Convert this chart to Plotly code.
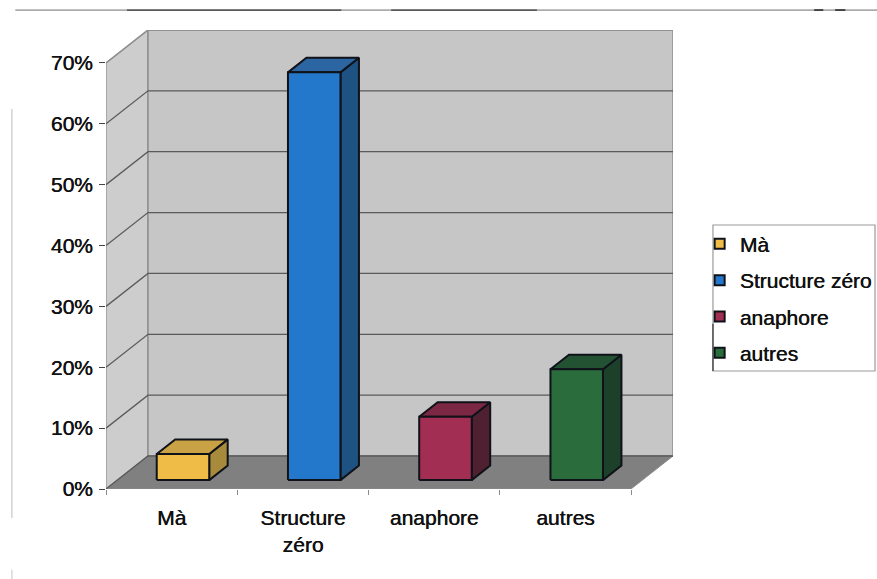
import plotly.graph_objects as go

categories = ["Mà", "Structure zéro", "anaphore", "autres"]
axis_labels = ["Mà", "Structure<br>zéro", "anaphore", "autres"]
values = [4.3, 67.0, 10.4, 18.2]
percent_ticks = [0, 10, 20, 30, 40, 50, 60, 70]

front_colors = ["#f0bc48", "#2478cc", "#a32e54", "#2a6c3c"]
top_colors = ["#c8a244", "#2c66a2", "#7c2844", "#225232"]
side_colors = ["#a88a3c", "#1e5282", "#4e2030", "#1c4029"]

# Oblique projection: one unit of depth moves a point this far on the axes.
DEPTH_X = 0.32
DEPTH_Y = 5.42
BAR_WIDTH = 0.40
BAR_D0, BAR_D1 = 0.27, 0.71
FONT = "Liberation Sans"
INK = "#10121a"
TEXT = "#111111"
HEAVY = "0.5px 0 0.4px #111111"


def proj(x, y, d):
    return x + d * DEPTH_X, y + d * DEPTH_Y


def polygon(points, fill, line="rgba(0,0,0,0)", width=0):
    pts = [proj(*p) for p in points]
    pts.append(pts[0])
    return go.Scatter(
        x=[p[0] for p in pts], y=[p[1] for p in pts], mode="lines",
        fill="toself", fillcolor=fill, line=dict(color=line, width=width),
        showlegend=False, hoverinfo="skip",
    )


def page_line(x0, x1, y0, y1, color, width):
    return dict(type="line", xref="paper", yref="paper", x0=x0, x1=x1, y0=y0, y1=y1,
                line=dict(color=color, width=width))


fig = go.Figure()
n = len(categories)
top = percent_ticks[-1]

# Chart walls and floor
fig.add_trace(polygon([(0, 0, 0), (0, top, 0), (0, top, 1), (0, 0, 1)], "#cdcdcd", "#9a9a9a", 1.5))
fig.add_trace(polygon([(0, 0, 1), (0, top, 1), (n, top, 1), (n, 0, 1)], "#c6c6c6", "#8f8f8f", 1.5))
fig.add_trace(polygon([(0, 0, 0), (0, 0, 1), (n, 0, 1), (n, 0, 0)], "#808080", "#8c8c8c", 1))

# Gridlines wrap from the side wall onto the back wall
for v in percent_ticks:
    a, b, c = proj(0, v, 0), proj(0, v, 1), proj(n, v, 1)
    color = "#8f8f8f" if v == top else "#5a5a5a"
    fig.add_trace(go.Scatter(
        x=[a[0], b[0], c[0]], y=[a[1], b[1], c[1]], mode="lines",
        line=dict(color=color, width=1.3), showlegend=False, hoverinfo="skip",
    ))

# Bars: front, top and right faces
for i, value in enumerate(values):
    x0 = i + 0.5 - BAR_WIDTH / 2
    x1 = i + 0.5 + BAR_WIDTH / 2
    d0, d1 = BAR_D0, BAR_D1
    fig.add_trace(polygon([(x1, 0, d0), (x1, value, d0), (x1, value, d1), (x1, 0, d1)], side_colors[i], INK, 2))
    fig.add_trace(polygon([(x0, value, d0), (x1, value, d0), (x1, value, d1), (x0, value, d1)], top_colors[i], INK, 2))
    fig.add_trace(polygon([(x0, 0, d0), (x1, 0, d0), (x1, value, d0), (x0, value, d0)], front_colors[i], INK, 2))

# Legend entries
for i, name in enumerate(categories):
    fig.add_trace(go.Scatter(
        x=[None], y=[None], mode="markers", name=name, legendgroup=name,
        marker=dict(symbol="square", size=10, color=front_colors[i], line=dict(color=INK, width=2)),
    ))

text_font = dict(family=FONT, size=21, color=TEXT, shadow=HEAVY)

fig.update_layout(
    width=877, height=579,
    margin=dict(l=106, r=204, t=30, b=90, autoexpand=False),
    paper_bgcolor="white", plot_bgcolor="white",
    font=dict(family=FONT, size=21, color=TEXT),
    showlegend=True,
    legend=dict(
        x=1.047, y=0.578, xref="paper", yref="paper", xanchor="left", yanchor="top",
        bgcolor="rgba(0,0,0,0)", borderwidth=0, tracegroupgap=6,
        font=text_font, itemclick=False, itemdoubleclick=False,
    ),
    xaxis=dict(
        range=[0, n + DEPTH_X], showgrid=False, zeroline=False, showline=False,
        tickmode="array", tickvals=[i + 0.5 for i in range(n)], ticktext=axis_labels,
        ticks="", ticklabelstandoff=14, tickfont=text_font,
        minor=dict(tickmode="array", tickvals=list(range(n + 1)), ticks="outside",
                   ticklen=5, tickcolor="#8a8a8a", tickwidth=1),
    ),
    yaxis=dict(
        range=[0, top + DEPTH_Y], showgrid=False, zeroline=False, showline=False,
        tickmode="array", tickvals=percent_ticks, ticktext=[f"{v}%" for v in percent_ticks],
        ticks="outside", ticklen=6, tickcolor="#444444", tickwidth=1, ticklabelstandoff=2,
        tickfont=text_font,
    ),
    shapes=[
        # Rule across the top of the page, with its darker stretches
        page_line(-0.160, 1.36, 1.0435, 1.0435, "#acacac", 1.8),
        page_line(0.037, 0.415, 1.0435, 1.0435, "#3c3c3c", 1.2),
        page_line(0.503, 0.760, 1.0435, 1.0435, "#3c3c3c", 1.2),
        page_line(1.249, 1.265, 1.0435, 1.0435, "#222222", 1.5),
        page_line(1.286, 1.304, 1.0435, 1.0435, "#222222", 1.5),
        # Faint frame on the left
        page_line(-0.166, -0.166, -0.063, 0.828, "#d2d2d2", 1.5),
        page_line(-0.166, -0.166, -0.196, -0.176, "#d8d8d8", 1.5),
        # Legend frame
        dict(type="rect", xref="paper", yref="paper", x0=1.0705, x1=1.3563, y0=0.2571, y1=0.5752,
             line=dict(color="#9a9a9a", width=1.2), fillcolor="rgba(0,0,0,0)"),
        page_line(1.0705, 1.0705, 0.2571, 0.36, "#333333", 1.2),
    ],
)

fig.write_html("out.html")
